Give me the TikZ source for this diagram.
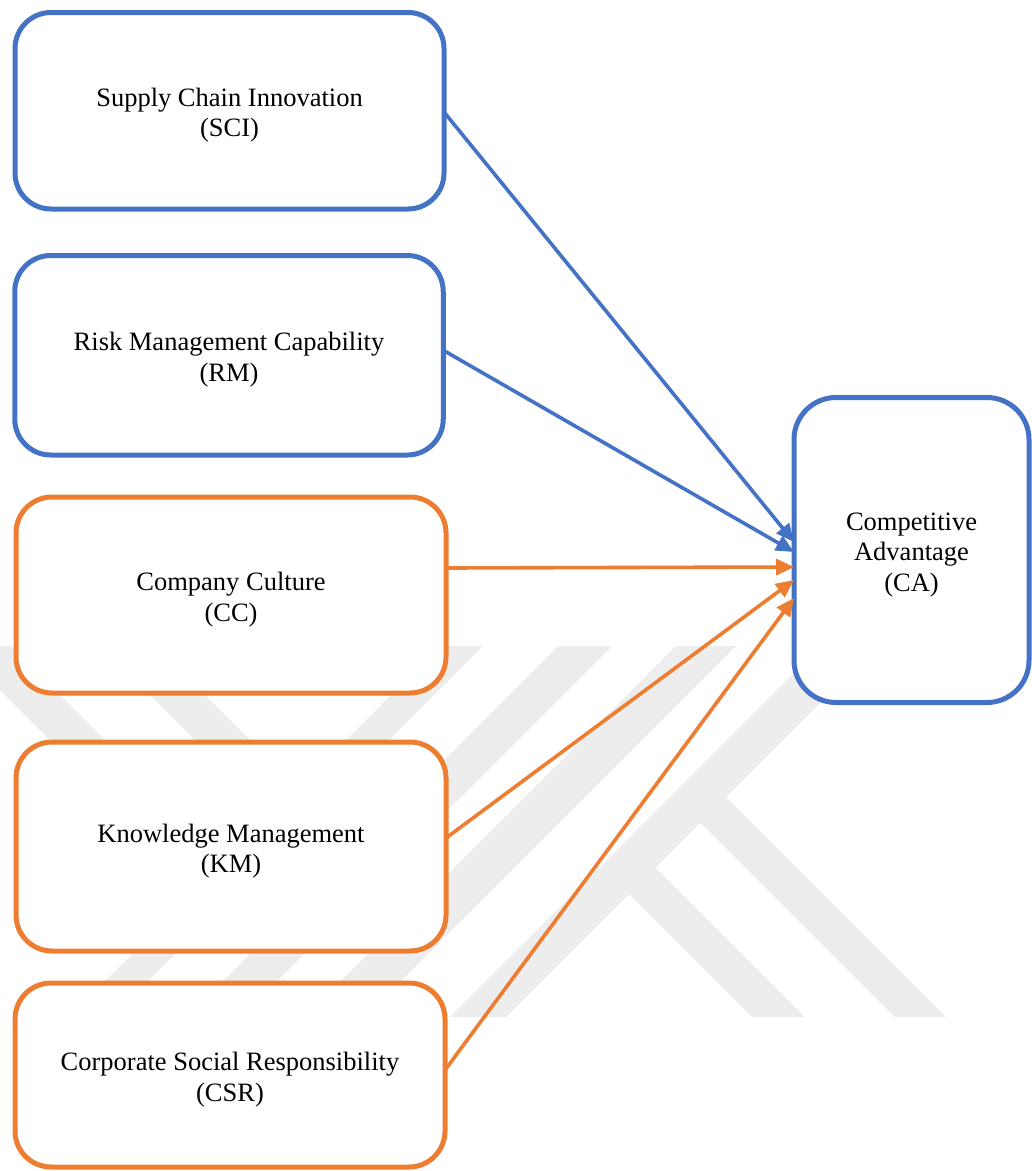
\documentclass[tikz,border=0pt]{standalone}
\usepackage{fontspec}
\setmainfont{Liberation Serif}
\usetikzlibrary{arrows.meta}
\definecolor{boxblue}{RGB}{68,114,196}
\definecolor{boxorange}{RGB}{237,125,49}
\definecolor{wmgray}{RGB}{237,237,237}
\newcommand\wordstrut{\rule{0pt}{27.5pt}}

\begin{document}
\begin{tikzpicture}[x=1pt, y=-1pt, font=\fontsize{26.5}{30.5}\selectfont,
    var/.style={draw, fill=white, rounded corners=36pt, line width=5pt, align=center, inner sep=0pt, outer sep=0pt},
    link/.style={line width=3.6pt, -{Triangle[length=18pt, width=16pt]}}]
    \useasboundingbox (0,0) rectangle (1032,1171);
    \begin{scope}
        \clip (0,0) rectangle (1032,1171);
        \fill[wmgray] (440,646) -- (483,646) -- (112,1017) -- (69,1017) -- cycle;
        \fill[wmgray] (558,646) -- (612,646) -- (241,1017) -- (187,1017) -- cycle;
        \fill[wmgray] (676,646) -- (736,646) -- (365,1017) -- (305,1017) -- cycle;
        \fill[wmgray] (821,646) -- (877,646) -- (506,1017) -- (450,1017) -- cycle;
        \fill[wmgray] (-44,646) -- (11,646) -- (232.5,867.5) -- (205,895) -- cycle;
        \fill[wmgray] (101,646) -- (156,646) -- (370,860) -- (342.5,887.5) -- cycle;
        \fill[wmgray] (615,880) -- (641.5,853.5) -- (805,1017) -- (752,1017) -- cycle;
        \fill[wmgray] (686.5,808.5) -- (712,783) -- (946,1017) -- (895,1017) -- cycle;
    \end{scope}

    \node[var, draw=boxblue, minimum width=429pt, minimum height=196.5pt] (sci) at (229.5,110.75) {\wordstrut Supply Chain Innovation\\(SCI)};
    \node[var, draw=boxblue, minimum width=428.5pt, minimum height=199.5pt] (rm) at (229,355.25) {\wordstrut Risk Management Capability\\(RM)};
    \node[var, draw=boxorange, minimum width=430pt, minimum height=196pt] (cc) at (231,595) {\wordstrut Company Culture\\(CC)};
    \node[var, draw=boxorange, minimum width=430pt, minimum height=209pt] (km) at (231,846.5) {\wordstrut Knowledge Management\\(KM)};
    \node[var, draw=boxorange, minimum width=430pt, minimum height=184pt] (csr) at (230,1075) {\wordstrut Corporate Social Responsibility\\(CSR)};
    \node[var, draw=boxblue, rounded corners=42pt, minimum width=235pt, minimum height=305pt] (ca) at (911.5,550) {\wordstrut Competitive\\Advantage\\(CA)};

    \draw[link, boxblue] ([yshift=-1.25pt]sci.east) -- ([yshift=8pt]ca.west);
    \draw[link, boxblue] ([yshift=5pt]rm.east) -- ([yshift=-2pt]ca.west);
    \draw[link, boxorange] ([yshift=27pt]cc.east) -- ([yshift=-17pt]ca.west);
    \draw[link, boxorange] ([yshift=8.5pt]km.east) -- ([yshift=-30pt]ca.west);
    \draw[link, boxorange] ([yshift=5pt]csr.east) -- ([yshift=-48pt]ca.west);
\end{tikzpicture}
\end{document}
